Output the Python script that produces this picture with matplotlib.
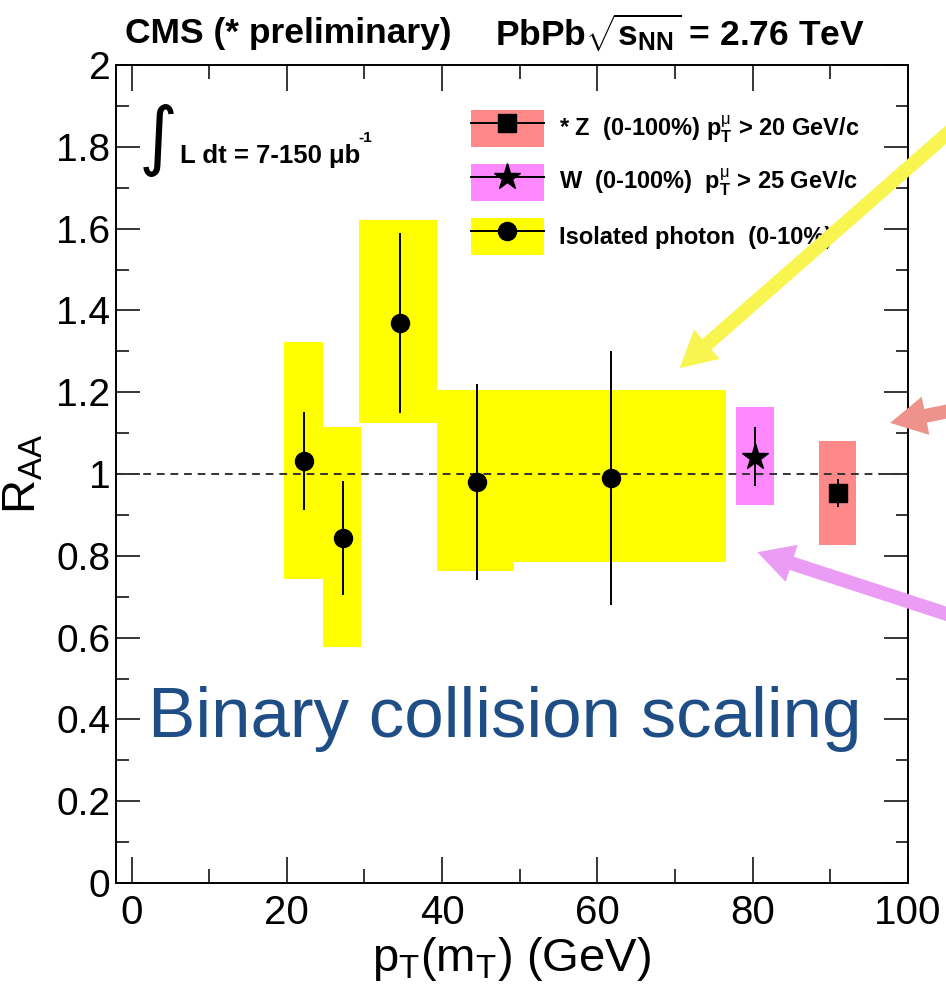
import matplotlib
matplotlib.use("Agg")
import matplotlib.pyplot as plt
from matplotlib.patches import Patch
from matplotlib.lines import Line2D
from matplotlib.legend_handler import HandlerTuple

plt.rcParams['font.family'] = ['Liberation Sans', 'DejaVu Sans']
plt.rcParams['mathtext.fontset'] = 'custom'
plt.rcParams['mathtext.rm'] = 'Liberation Sans'
plt.rcParams['mathtext.it'] = 'Liberation Sans:italic'
plt.rcParams['mathtext.bf'] = 'Liberation Sans:bold'

# isolated photon (0-10%)
pho_x = [22.2, 27.2, 34.6, 44.5, 61.8]
pho_y = [1.032, 0.844, 1.369, 0.980, 0.990]
pho_err = [0.12, 0.14, 0.22, 0.24, 0.31]
pho_box_x0 = [19.6, 24.6, 29.3, 39.3, 49.3]
pho_box_x1 = [24.6, 29.6, 39.3, 49.3, 76.5]
pho_box_y0 = [0.743, 0.577, 1.125, 0.763, 0.785]
pho_box_y1 = [1.323, 1.115, 1.621, 1.205, 1.205]

# W (0-100%)
w_x = [80.3]
w_y = [1.042]
w_err = [0.072]
w_box_x0 = [77.8]
w_box_x1 = [82.7]
w_box_y0 = [0.924]
w_box_y1 = [1.164]

# Z (0-100%)
z_x = [91.0]
z_y = [0.954]
z_err = [0.035]
z_box_x0 = [88.6]
z_box_x1 = [93.3]
z_box_y0 = [0.826]
z_box_y1 = [1.081]

labels = [r"* Z  (0-100%) $\mathbf{p}_{\mathbf{T}}^{\mathrm{μ}}$ > 20 GeV/c",
          r"W  (0-100%)  $\mathbf{p}_{\mathbf{T}}^{\mathrm{μ}}$ > 25 GeV/c",
          "Isolated photon  (0-10%)"]

C_PHO = '#ffff00'
C_W = '#ff88ff'
C_Z = '#ff8888'

fig = plt.figure(figsize=(9.46, 9.98), dpi=100)
ax = fig.add_axes([0.1226, 0.1152, 0.8372, 0.8196])


def boxes(x0, x1, y0, y1, c):
    ax.bar(x0, [b - a for a, b in zip(y0, y1)], width=[b - a for a, b in zip(x0, x1)],
           bottom=y0, align='edge', color=c, lw=0, zorder=1)


boxes(pho_box_x0, pho_box_x1, pho_box_y0, pho_box_y1, C_PHO)
boxes(w_box_x0, w_box_x1, w_box_y0, w_box_y1, C_W)
boxes(z_box_x0, z_box_x1, z_box_y0, z_box_y1, C_Z)

ax.axhline(1.0, color='#333333', lw=1.4, ls=(0, (4, 3)), zorder=2)

ax.errorbar(pho_x, pho_y, yerr=pho_err, fmt='o', color='k', ms=13, elinewidth=1.4, capsize=0, zorder=3)
ax.errorbar(w_x, w_y, yerr=w_err, fmt='*', color='k', ms=20, elinewidth=1.4, capsize=0, zorder=3)
ax.errorbar(z_x, z_y, yerr=z_err, fmt='s', color='k', ms=13, elinewidth=1.4, capsize=0, zorder=3)

ax.set_xlim(-2, 100)
ax.set_ylim(0, 2)
ax.set_xticks([0, 20, 40, 60, 80, 100])
ax.set_xticks([10, 30, 50, 70, 90], minor=True)
ax.set_yticks([0, 0.2, 0.4, 0.6, 0.8, 1, 1.2, 1.4, 1.6, 1.8, 2])
ax.set_yticklabels(['0', '0.2', '0.4', '0.6', '0.8', '1', '1.2', '1.4', '1.6', '1.8', '2'])
ax.set_yticks([0.1 + 0.2 * i for i in range(10)], minor=True)
ax.tick_params(which='both', direction='in', top=True, right=True, width=1.1)
ax.tick_params(axis='x', which='major', length=19, pad=8, labelsize=29)
ax.tick_params(axis='x', which='minor', length=10)
ax.tick_params(axis='y', which='major', length=17, pad=4, labelsize=28)
ax.tick_params(axis='y', which='minor', length=9)
for s in ax.spines.values():
    s.set_linewidth(1.4)

ax.set_xlabel(r"p$_\mathrm{T}$(m$_\mathrm{T}$) (GeV)", fontsize=34, labelpad=2)
ax.set_ylabel(r"R$_\mathrm{AA}$", fontsize=34, labelpad=8)

handles = [
    (Patch(facecolor=C_Z, lw=0), Line2D([], [], color='k', marker='s', ms=13, lw=1.4)),
    (Patch(facecolor=C_W, lw=0), Line2D([], [], color='k', marker='*', ms=20, lw=1.4)),
    (Patch(facecolor=C_PHO, lw=0), Line2D([], [], color='k', marker='o', ms=13, lw=1.4)),
]
ax.legend(handles, labels, handler_map={tuple: HandlerTuple(ndivide=1)},
          loc='upper left', bbox_to_anchor=(0.448, 0.945), frameon=False,
          prop={'size': 17, 'weight': 'bold'}, handlelength=3.09, handleheight=2.03,
          handletextpad=0.66, labelspacing=0.72, borderpad=0, borderaxespad=0)

ax.text(0.9, 1.815, "\u222b", fontsize=54, family='DejaVu Sans', va='center', ha='left')
ax.text(6.2, 1.76, "L dt = 7-150 μb", fontsize=18.5, fontweight='bold',
        va='baseline', ha='left')
ax.text(29.2, 1.812, "-1", fontsize=11, fontweight='bold', va='baseline', ha='left')

ax.text(2.1, 0.357, "Binary collision scaling", fontsize=51, color='#1f4e86',
        va='baseline', ha='left', zorder=5)

fig.text(125 / 946, 1 - 33 / 998, "CMS (* preliminary)", fontsize=25.5, fontweight='bold',
         va='center', ha='left')
fig.text(495 / 946, 1 - 33 / 998, r"PbPb$\sqrt{\mathbf{s}_{\mathbf{NN}}}$ = 2.76 TeV",
         fontsize=25.5, fontweight='bold', va='center', ha='left')

arrow_kw = dict(width=10, headwidth=28, headlength=26, lw=0)
ax.annotate('', xy=(70.6, 1.259), xytext=(106.6, 1.858), annotation_clip=False,
            arrowprops=dict(color='#f9f550', **arrow_kw), zorder=6)
ax.annotate('', xy=(97.7, 1.125), xytext=(106.6, 1.159), annotation_clip=False,
            arrowprops=dict(color='#ee938c', **arrow_kw), zorder=6)
ax.annotate('', xy=(80.6, 0.809), xytext=(106.6, 0.648), annotation_clip=False,
            arrowprops=dict(color='#eb9cf5', **arrow_kw), zorder=6)

fig.savefig("out.png", dpi=100)
